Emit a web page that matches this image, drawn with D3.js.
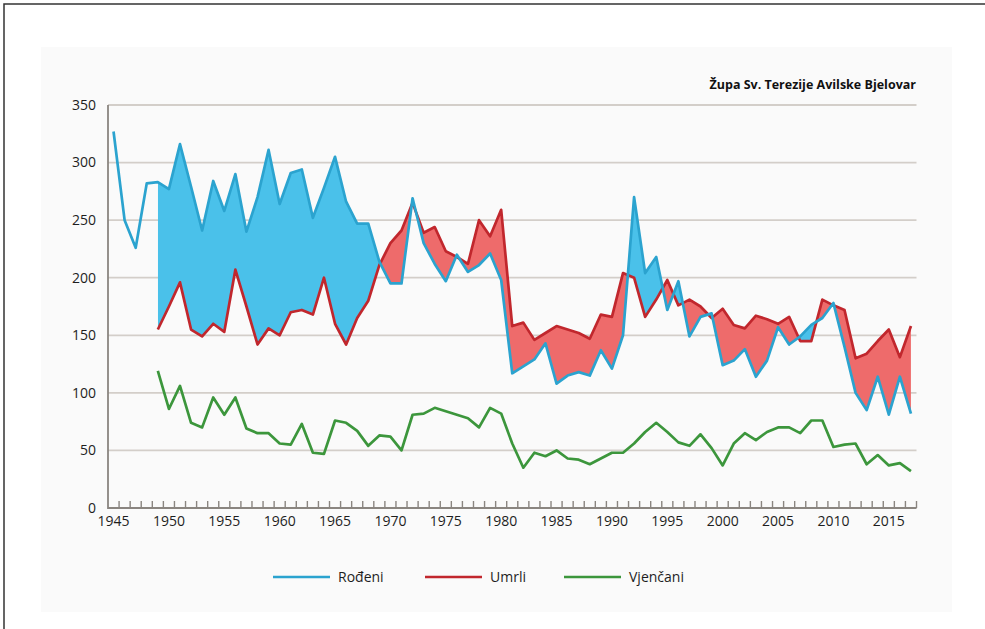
<!DOCTYPE html>
<html>
<head>
<meta charset="utf-8">
<script src="https://cdn.jsdelivr.net/npm/d3@7"></script>
<style>
  body { margin: 0; background: #fff; }
  svg text { font-family: "Open Sans", sans-serif; fill: #1e1e1e; }
</style>
</head>
<body>
<div id="chart"></div>
<script>
// years on the category axis
const years = d3.range(1945, 2018);

// Rođeni (births), 1945-2017
const rodjeni = [327, 250, 226, 282, 283, 277, 316, 279, 241, 284,
                 258, 290, 240, 270, 311, 264, 291, 294, 252, 278,
                 305, 266, 247, 247, 214, 195, 195, 269, 230, 212,
                 197, 220, 205, 211, 221, 198, 117, 123, 129, 143,
                 108, 115, 118, 115, 137, 121, 150, 270, 204, 218,
                 172, 197, 149, 166, 169, 124, 128, 138, 114, 128,
                 157, 142, 149, 159, 165, 178, 140, 100, 85, 114,
                 81, 114, 82];

// Umrli (deaths), no data before 1949
const umrli = [null, null, null, null, 155, 175, 196, 155, 149, 160,
               153, 207, 175, 142, 156, 150, 170, 172, 168, 200,
               160, 142, 165, 180, 211, 230, 241, 265, 239, 244,
               223, 218, 212, 250, 236, 259, 158, 161, 146, 152,
               158, 155, 152, 147, 168, 166, 204, 200, 166, 181,
               198, 176, 181, 175, 165, 173, 159, 156, 167, 164,
               160, 166, 145, 145, 181, 176, 172, 130, 134, 145,
               155, 131, 158];

// Vjenčani (marriages), no data before 1949
const vjencani = [null, null, null, null, 119, 86, 106, 74, 70, 96,
                  81, 96, 69, 65, 65, 56, 55, 73, 48, 47,
                  76, 74, 67, 54, 63, 62, 50, 81, 82, 87,
                  84, 81, 78, 70, 87, 82, 56, 35, 48, 45,
                  50, 43, 42, 38, 43, 48, 48, 56, 66, 74,
                  66, 57, 54, 64, 52, 37, 56, 65, 59, 66,
                  70, 70, 65, 76, 76, 53, 55, 56, 38, 46,
                  37, 39, 32];

const yTicks = [0, 50, 100, 150, 200, 250, 300, 350];
const xLabels = [1945, 1950, 1955, 1960, 1965, 1970, 1975, 1980, 1985,
                 1990, 1995, 2000, 2005, 2010, 2015];
const seriesNames = ["Rođeni", "Umrli", "Vjenčani"];
const title = "Župa Sv. Terezije Avilske Bjelovar";

const width = 985, height = 629;
const colors = { blue: "#2ba3cf", red: "#c1272d", green: "#3c963c" };

const svg = d3.select("#chart").append("svg")
    .attr("width", width)
    .attr("height", height);

// page frame + light panel
svg.append("rect")
    .attr("x", 41).attr("y", 47)
    .attr("width", 911).attr("height", 565)
    .attr("fill", "#fafafa");
svg.append("path")
    .attr("d", `M4,${height}V4H${width}`)
    .attr("fill", "none")
    .attr("stroke", "#333")
    .attr("stroke-width", 1.5);

const x = d3.scalePoint().domain(years).range([108, 916.5]).padding(0.5);
const y = d3.scaleLinear().domain([0, 350]).range([508, 105]);
const step = x.step();

// gridlines
svg.append("g")
    .selectAll("line")
    .data(yTicks.filter(d => d > 0))
    .enter().append("line")
    .attr("x1", 108).attr("x2", 916.5)
    .attr("y1", d => y(d)).attr("y2", d => y(d))
    .attr("stroke", "#d3cec9")
    .attr("stroke-width", 1.8);

// y labels
svg.append("g")
    .selectAll("text")
    .data(yTicks)
    .enter().append("text")
    .attr("x", 96)
    .attr("y", d => y(d))
    .attr("dy", "0.35em")
    .attr("text-anchor", "end")
    .style("font-size", "14px")
    .text(d => d);

// axis lines
svg.append("path")
    .attr("d", `M108,${y(350)}V${y(0)}H916.5`)
    .attr("fill", "none")
    .attr("stroke", "#8a8580")
    .attr("stroke-width", 1.8);

// year ticks sit between categories, pointing up
const edges = years.map(d => x(d) - step / 2).concat([x(2017) + step / 2]);
svg.append("g")
    .selectAll("line")
    .data(edges.slice(1))
    .enter().append("line")
    .attr("x1", d => d).attr("x2", d => d)
    .attr("y1", y(0)).attr("y2", y(0) - 7)
    .attr("stroke", "#8a8580")
    .attr("stroke-width", 1.4);

svg.append("g")
    .selectAll("text")
    .data(xLabels)
    .enter().append("text")
    .attr("x", d => x(d))
    .attr("y", y(0) + 18)
    .attr("text-anchor", "middle")
    .style("font-size", "14px")
    .text(d => d);

// difference fill between births and deaths
const rows = years.map((yr, i) => ({ yr: yr, b: rodjeni[i], d: umrli[i], m: vjencani[i] }));
const paired = rows.filter(r => r.d != null);

const defs = svg.append("defs");
defs.append("clipPath").attr("id", "above")
    .append("path")
    .attr("d", d3.area().x(r => x(r.yr)).y0(0).y1(r => y(r.d))(paired));
defs.append("clipPath").attr("id", "below")
    .append("path")
    .attr("d", d3.area().x(r => x(r.yr)).y0(height).y1(r => y(r.d))(paired));

const between = d3.area().x(r => x(r.yr)).y0(r => y(r.d)).y1(r => y(r.b));

svg.append("path")
    .attr("d", between(paired))
    .attr("clip-path", "url(#above)")
    .attr("fill", "#4ac1ea");
svg.append("path")
    .attr("d", between(paired))
    .attr("clip-path", "url(#below)")
    .attr("fill", "#ee6b6b");

// lines
const line = key => d3.line()
    .defined(r => r[key] != null)
    .x(r => x(r.yr))
    .y(r => y(r[key]));

svg.append("path")
    .attr("d", line("d")(rows))
    .attr("fill", "none")
    .attr("stroke", colors.red)
    .attr("stroke-width", 2.7)
    .attr("stroke-linejoin", "round");
svg.append("path")
    .attr("d", line("b")(rows))
    .attr("fill", "none")
    .attr("stroke", colors.blue)
    .attr("stroke-width", 2.7)
    .attr("stroke-linejoin", "round");
svg.append("path")
    .attr("d", line("m")(rows))
    .attr("fill", "none")
    .attr("stroke", colors.green)
    .attr("stroke-width", 2.7)
    .attr("stroke-linejoin", "round");

// title
svg.append("text")
    .attr("x", 916)
    .attr("y", 89)
    .attr("text-anchor", "end")
    .style("font-size", "12.5px")
    .style("font-weight", "bold")
    .style("fill", "#111")
    .text(title);

// legend
const legendX = [273, 425, 564];
const legendColors = [colors.blue, colors.red, colors.green];
const legend = svg.append("g")
    .selectAll("g")
    .data(seriesNames)
    .enter().append("g")
    .attr("transform", (d, i) => `translate(${legendX[i]},577)`);
legend.append("line")
    .attr("x1", 0).attr("x2", 57)
    .attr("stroke", (d, i) => legendColors[i])
    .attr("stroke-width", 2.7);
legend.append("text")
    .attr("x", 65)
    .attr("dy", "0.35em")
    .style("font-size", "14px")
    .text(d => d);
</script>
</body>
</html>
